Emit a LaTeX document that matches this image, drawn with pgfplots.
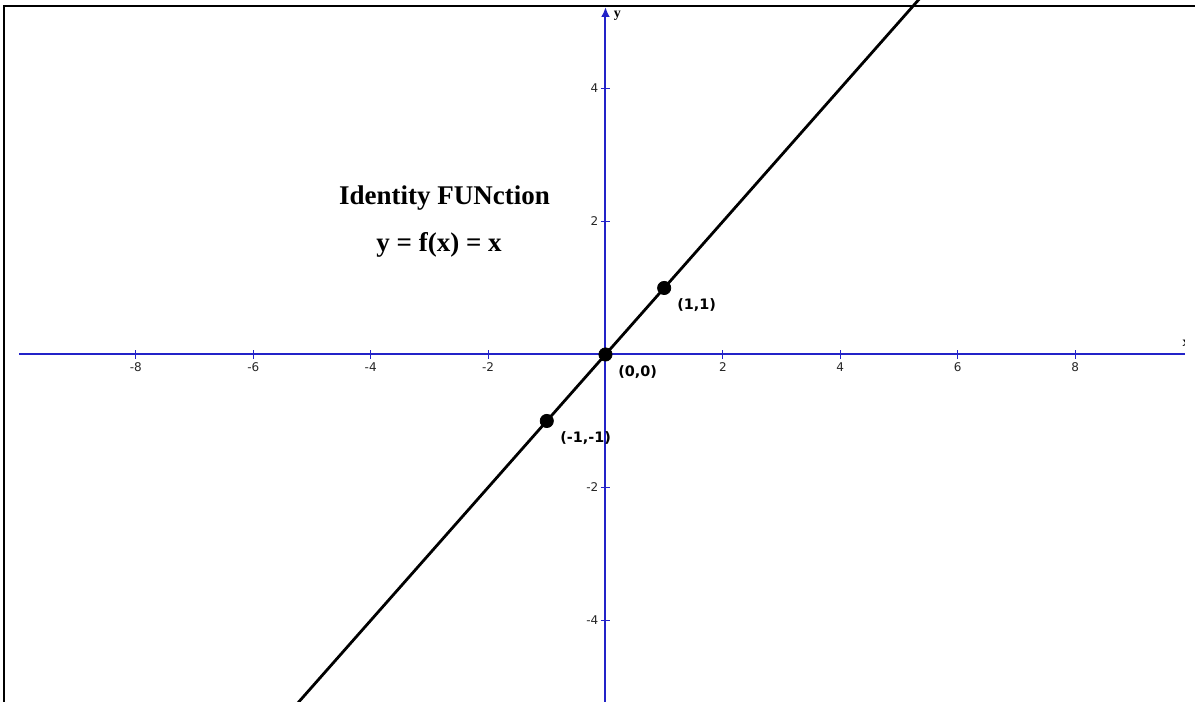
\documentclass[border=0pt]{standalone}
\usepackage{pgfplots}
\pgfplotsset{compat=1.18}
\usepackage{fontspec}
\setmainfont{Liberation Serif}
\newfontfamily\dv{DejaVu Sans}
\usetikzlibrary{arrows.meta}
\definecolor{axisblue}{RGB}{35,35,200}

\begin{document}
\begin{tikzpicture}
\begin{axis}[
  scale only axis,
  width=597.5pt, height=351pt,
  xmin=-10.315, xmax=10.043,
  ymin=-5.226, ymax=5.331,
  axis lines=middle,
  axis line style={axisblue, line width=1.0pt},
  x axis line style={-, axisblue, line width=1.0pt, shorten <=9.5pt, shorten >=5pt},
  y axis line style={-{Latex[length=5pt,width=4.4pt]}, axisblue, line width=1.0pt, shorten >=3.5pt},
  xtick={-8,-6,...,8}, ytick={-4,-2,2,4},
  tick align=center, major tick length=4.5pt,
  tick style={axisblue, line width=0.5pt},
  ticklabel style={font=\dv\fontsize{6}{7}\selectfont, text=black!85},
  xticklabel style={yshift=1.8pt},
  yticklabel style={xshift=2.2pt},
  /pgf/number format/assume math mode=true,
]
% frame along the top and left edges
\draw[black, line width=1.1pt] (rel axis cs:0.0036,0) -- (rel axis cs:0.0036,0.9915) -- (rel axis cs:1,0.9915);

% the identity function y = x
\addplot[black, line width=1.4pt] coordinates {(-5.6,-5.6) (5.6,5.6)};
\addplot[only marks, mark=*, mark size=3.3pt, black] coordinates {(-1,-1) (0,0) (1,1)};

\node[font=\bfseries\fontsize{13.5}{16}\selectfont] at (axis cs:-2.743,2.353) {Identity FUNction};
\node[font=\bfseries\fontsize{13.5}{16}\selectfont] at (axis cs:-2.836,1.647) {y = f(x) = x};

\node[anchor=west, inner sep=0pt, font=\dv\bfseries\fontsize{7.2}{8}\selectfont] at (axis cs:1.218,0.744) {(1,1)};
\node[anchor=west, inner sep=0pt, font=\dv\bfseries\fontsize{7.2}{8}\selectfont] at (axis cs:0.213,-0.259) {(0,0)};
\node[anchor=west, inner sep=0pt, font=\dv\bfseries\fontsize{7.2}{8}\selectfont] at (axis cs:-0.775,-1.26) {(-1,-1)};

\node[font=\bfseries\fontsize{7}{8}\selectfont] at (axis cs:0.204,5.098) {y};

\coordinate (xl) at (axis cs:9.89,0.173);
\coordinate (clipA) at (axis cs:9.5,-0.5);
\coordinate (clipB) at (axis cs:9.872,0.8);
\end{axis}
\begin{scope}
  \clip (clipA) rectangle (clipB);
  \node[font=\bfseries\fontsize{7}{8}\selectfont] at (xl) {x};
\end{scope}
\pgfresetboundingbox
\path[use as bounding box] (current axis.south west) rectangle (current axis.north east);
\end{tikzpicture}
\end{document}
